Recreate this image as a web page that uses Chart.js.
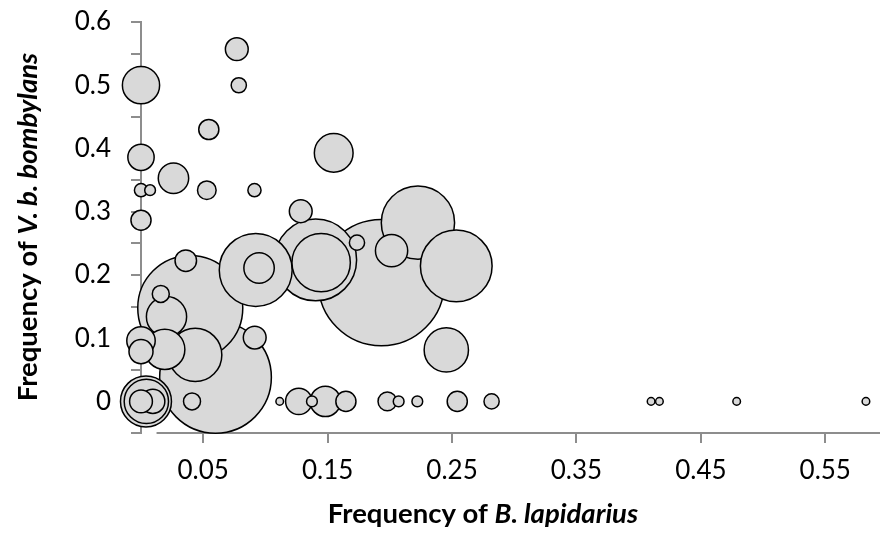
<!DOCTYPE html>
<html>
<head>
<meta charset="utf-8">
<script src="https://cdn.jsdelivr.net/npm/chart.js@4.4.1/dist/chart.umd.min.js"></script>
<style>
  body { margin: 0; background: #fff; }
</style>
</head>
<body>
<canvas id="bubbleChart" width="880" height="535"></canvas>
<script>
// frequency of B. lapidarius (x), frequency of V. b. bombylans (y), sample size (bubble area)
var freqLapidarius = [
  0, 0.077, 0.0786, 0.0545, 0, 0.0261, 0, 0.0073, 0.0529, 0.0912,
  0, 0.1549, 0.1284, 0.1736, 0.2226, 0.1932, 0.2014, 0.2534, 0.1448, 0.1404,
  0.0949, 0.0922, 0.036, 0.0396, 0.0159, 0.0205, 0, 0, 0.0191, 0.0436,
  0.0599, 0.0914, 0.041, 0.1115, 0.004, 0.0043, 0, 0.0095, 0.1268, 0.1374,
  0.1482, 0.1647, 0.198, 0.2071, 0.2221, 0.2542, 0.2818, 0.2454, 0.41, 0.4167,
  0.4788, 0.5827
];
var freqBombylans = [
  0.5, 0.557, 0.5, 0.43, 0.386, 0.353, 0.334, 0.334, 0.334, 0.334,
  0.2865, 0.393, 0.3007, 0.251, 0.2827, 0.1878, 0.2384, 0.2142, 0.2194, 0.2237,
  0.211, 0.2079, 0.2226, 0.1478, 0.17, 0.134, 0.0957, 0.0787, 0.0822, 0.0735,
  0.038, 0.1009, 0, 0, 0, 0, 0, 0, 0, 0,
  0, 0, 0, 0, 0, 0, 0, 0.0814, 0, 0,
  0, 0
];
var sampleSize = [
  24, 9, 4, 7, 12, 16, 3, 2, 6, 3,
  7, 26, 9, 4, 93, 275, 18, 89, 59, 116,
  16, 92, 8, 191, 5, 28, 14, 10, 28, 49,
  216, 9, 5, 1, 45, 34, 9, 10, 12, 2,
  16, 7, 6, 2, 2, 7, 4, 34, 1, 1,
  1, 1
];

var xTicks = [0.05, 0.15, 0.25, 0.35, 0.45, 0.55];
var yTicks = [-0.05, 0, 0.05, 0.1, 0.15, 0.2, 0.25, 0.3, 0.35, 0.4, 0.45, 0.5, 0.55, 0.6];
var yLabels = ['0', '0.1', '0.2', '0.3', '0.4', '0.5', '0.6'];

var bubbleScale = 3.8;
var xAxisStart = 0.0125;

// bigger bubbles go underneath
var points = freqLapidarius.map(function (x, i) {
  return { x: x, y: freqBombylans[i], r: bubbleScale * Math.sqrt(sampleSize[i]) };
}).sort(function (a, b) { return b.r - a.r; });

// don't let bubble radius shrink the plot area
Chart.BubbleController.prototype.getMaxOverflow = function () { return 0; };

var axisColor = '#8d8d8d';
var tickFont = { family: 'Lato', size: 26 };

function drawParts(ctx, parts, x, y) {
  var total = 0;
  parts.forEach(function (p) {
    ctx.font = p.font;
    p.w = ctx.measureText(p.text).width;
    total += p.w;
  });
  var cx = x - total / 2;
  parts.forEach(function (p) {
    ctx.font = p.font;
    ctx.fillText(p.text, cx, y);
    cx += p.w;
  });
}

var axisExtras = {
  id: 'axisExtras',
  beforeDatasetsDraw: function (chart) {
    var ctx = chart.ctx, xs = chart.scales.x, area = chart.chartArea;
    ctx.save();
    ctx.strokeStyle = axisColor;
    ctx.lineWidth = 2;
    ctx.beginPath();
    ctx.moveTo(xs.getPixelForValue(xAxisStart), area.bottom);
    ctx.lineTo(area.right, area.bottom);
    ctx.stroke();
    ctx.restore();
  },
  afterDraw: function (chart) {
    var ctx = chart.ctx;
    var bold = 'bold 27.5px Lato', boldItalic = 'italic bold 27.5px Lato';
    ctx.save();
    ctx.fillStyle = '#000';
    ctx.textBaseline = 'middle';
    drawParts(ctx, [
      { text: 'Frequency of ', font: bold },
      { text: 'B. lapidarius', font: boldItalic }
    ], 483, 514);
    ctx.translate(28, 227);
    ctx.rotate(-Math.PI / 2);
    drawParts(ctx, [
      { text: 'Frequency of ', font: bold },
      { text: 'V. b. bombylans', font: boldItalic }
    ], 0, 0);
    ctx.restore();
  }
};

var ctx = document.getElementById('bubbleChart').getContext('2d');

var bubbleChart = new Chart(ctx, {
  type: 'bubble',
  data: {
    datasets: [{
      data: points,
      backgroundColor: '#d9d9d9',
      borderColor: '#000',
      borderWidth: 1.5,
      hoverRadius: 0,
      clip: false
    }]
  },
  options: {
    responsive: false,
    animation: false,
    events: [],
    layout: { padding: { top: 22, right: 0, left: 0, bottom: 0 } },
    plugins: {
      legend: { display: false },
      tooltip: { enabled: false }
    },
    scales: {
      x: {
        type: 'linear',
        min: 0,
        max: 0.594,
        afterBuildTicks: function (scale) {
          scale.ticks = xTicks.map(function (v) { return { value: v }; });
        },
        afterFit: function (scale) {
          scale.height = 102;
          scale.paddingLeft = 0;
          scale.paddingRight = 0;
        },
        ticks: {
          autoSkip: false,
          maxRotation: 0,
          color: '#000',
          font: tickFont,
          padding: 12,
          callback: function (v) { return String(v); }
        },
        grid: {
          drawOnChartArea: false,
          drawTicks: true,
          tickLength: 10,
          color: axisColor,
          lineWidth: 2
        },
        border: { display: false }
      },
      y: {
        type: 'linear',
        min: -0.05,
        max: 0.6,
        afterBuildTicks: function (scale) {
          scale.ticks = yTicks.map(function (v) { return { value: v }; });
        },
        afterFit: function (scale) {
          scale.width = 141;
          scale.paddingTop = 0;
          scale.paddingBottom = 0;
        },
        ticks: {
          autoSkip: false,
          color: '#000',
          font: tickFont,
          padding: 20,
          callback: function (v) {
            var s = v === 0 ? '0' : String(Math.round(v * 100) / 100);
            return yLabels.indexOf(s) >= 0 ? s : '';
          }
        },
        grid: {
          drawOnChartArea: false,
          drawTicks: true,
          tickLength: 10,
          color: axisColor,
          lineWidth: 2
        },
        border: { display: true, color: axisColor, width: 2 }
      }
    }
  },
  plugins: [axisExtras]
});
</script>
</body>
</html>
